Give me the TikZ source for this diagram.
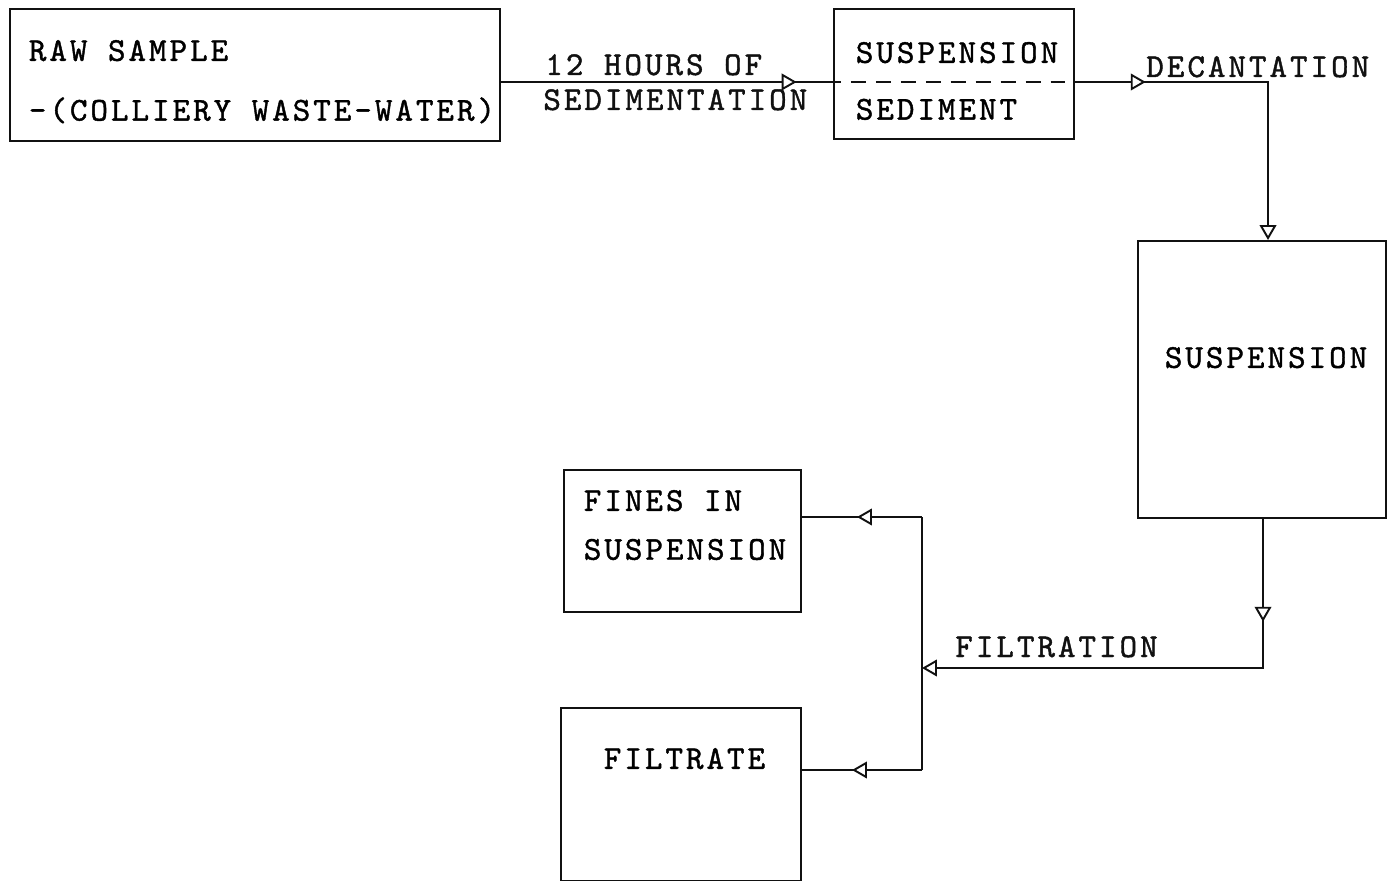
\documentclass[tikz,border=0pt]{standalone}
\usepackage{fontspec}
\newfontfamily\typewriter[LetterSpace=9,FakeBold=1.2]{lmmono10-regular.otf}
\usetikzlibrary{arrows.meta,positioning,decorations.markings}
\definecolor{Ink}{HTML}{111111}
\newcommand{\boxlines}[1]{{\spaceskip=0pt\xspaceskip=0pt\begin{tabular}[t]{@{}l@{}}#1\end{tabular}}}
\tikzset{
  opentri/.tip={Triangle[length=8.5pt,width=9.5pt,fill=white,line width=1.1pt]},
  box/.style={draw=Ink,line width=1pt,anchor=north west,inner ysep=0pt,align=left,font=\typewriter\fontsize{19}{34}\selectfont},
  lab/.style={inner sep=0pt,anchor=base west,text=Ink,font=\typewriter\fontsize{19}{34}\selectfont},
  flow/.style={draw=Ink,line width=1pt},
  tipat/.style={postaction={decorate},decoration={markings,mark=at position #1 with {\arrow{opentri}}}},
}
\begin{document}
\begin{tikzpicture}[x=0.02cm,y=-0.02cm]
  \useasboundingbox (0,0) rectangle (1391,881);
  % boxes
  \node[box,inner xsep=0.38cm,text width=9.04cm,text height=1.04cm,text depth=1.6cm] (raw) at (9,8)
    {\boxlines{RAW SAMPLE\\-(COLLIERY WASTE-WATER)}};
  \node[box,inner xsep=0.44cm,text width=3.92cm,text height=1.08cm,text depth=1.52cm,
        font=\typewriter\fontsize{19}{32.3}\selectfont] (settle) at (833,8)
    {\boxlines{SUSPENSION\\SEDIMENT}};
  \node[box,inner xsep=0.54cm,text width=3.88cm,text height=2.54cm,text depth=3.0cm] (susp) at (1137,240)
    {SUSPENSION};
  \node[box,inner xsep=0.4cm,text width=3.94cm,text height=0.82cm,text depth=2.02cm,
        font=\typewriter\fontsize{19}{27.8}\selectfont] (fines) at (563,469)
    {\boxlines{FINES IN\\SUSPENSION}};
  \node[box,inner xsep=0.86cm,text width=3.08cm,text height=1.22cm,text depth=2.24cm] (filtrate) at (560,707)
    {FILTRATE};
  % labels
  \node[lab] (hours) at (545,75) {12 HOURS OF};
  \node[lab] (sedim) at (543,110) {SEDIMENTATION};
  \node[lab] (decant) at (1146,77) {DECANTATION};
  \node[lab] (filt) at (955,657) {FILTRATION};
  % connectors
  \coordinate (lvl) at (0,82);
  \coordinate (dec) at (1268,82);
  \coordinate (bend) at (1263,668);
  \coordinate (top) at (922,517);
  \coordinate (bot) at (922,770);
  \draw[flow,tipat=5.92cm] (raw.east |- lvl) -- (settle.west |- lvl);
  \draw[flow,dash pattern=on 8.5pt off 5.7pt,dash phase=4pt] (settle.west |- lvl) -- (settle.east |- lvl);
  \draw[flow,tipat=1.42cm,-{opentri}] (settle.east |- lvl) -- (dec) -- (dec |- susp.north);
  \draw[flow,tipat=2.06cm,-{opentri}] (bend |- susp.south) -- (bend) -- (top |- bend);
  \draw[flow] (top) -- (bot);
  \draw[flow,tipat=1.3cm] (top) -- (fines.east |- top);
  \draw[flow,tipat=1.4cm] (bot) -- (filtrate.east |- bot);
\end{tikzpicture}
\end{document}
